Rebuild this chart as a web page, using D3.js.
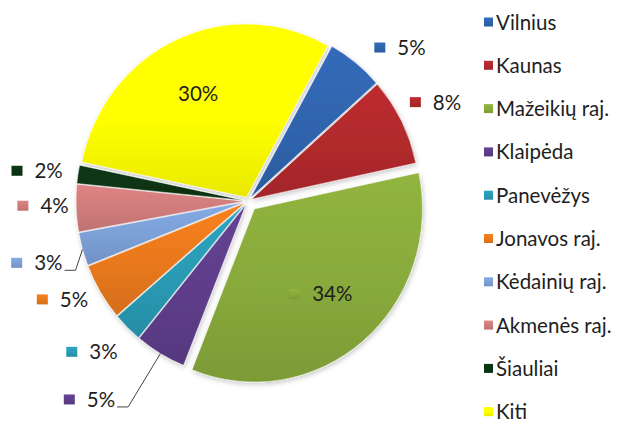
<!DOCTYPE html>
<html>
<head>
<meta charset="utf-8">
<script src="https://cdn.jsdelivr.net/npm/d3@7"></script>
<style>
  body { margin: 0; background: #fff; }
  text { font-family: Lato, "Liberation Sans", sans-serif; font-size: 20.5px; fill: #1e1e1e; }
</style>
</head>
<body>
<svg id="chart" width="622" height="425"></svg>
<script>
const cities = ["Vilnius", "Kaunas", "Mažeikių raj.", "Klaipėda", "Panevėžys",
                "Jonavos raj.", "Kėdainių raj.", "Akmenės raj.", "Šiauliai", "Kiti"];
const shares = [5.4, 8.2, 34.4, 4.9, 2.8, 5.3, 3.1, 4.4, 1.7, 29.8];
const colors = ["#2f64ad", "#b0292c", "#88a93b", "#5e3d8a", "#2a9ab3",
                "#e8781d", "#7b9fd6", "#cf7b7b", "#0a3412", "#ffff00"];

// label placement: [angle shift from slice middle (deg), distance from centre]
const labelPos = [[6, 216], [-1, 212], [2, 118], [8, 254], [1.5, 217],
                  [3, 210], [-0.5, 220], [1, 205], [-0.5, 213], [-5, 124]];
const leaderLines = [3, 6];

const cx = 248, cy = 201, r = 168, sy = 1.031;
const start = 29 * Math.PI / 180;

const svg = d3.select("#chart");
const defs = svg.append("defs");

const shadow = defs.append("filter").attr("id", "shadow")
    .attr("x", "-10%").attr("y", "-10%").attr("width", "120%").attr("height", "120%");
shadow.append("feDropShadow")
    .attr("dx", 1).attr("dy", 2).attr("stdDeviation", 2.5)
    .attr("flood-color", "#000").attr("flood-opacity", 0.22);

colors.forEach((c, i) => {
    const grad = defs.append("linearGradient").attr("id", "grad" + i)
        .attr("x1", 0).attr("y1", 0).attr("x2", 0).attr("y2", 1);
    grad.append("stop").attr("offset", "0%").attr("stop-color", d3.color(c).brighter(0.2));
    grad.append("stop").attr("offset", "55%").attr("stop-color", c);
    grad.append("stop").attr("offset", "100%").attr("stop-color", d3.color(c).darker(0.25));
});

const pie = d3.pie().sort(null).value(d => d)
    .startAngle(start).endAngle(start + 2 * Math.PI);
const arcs = pie(shares);
const arc = d3.arc().innerRadius(0).outerRadius(r);
const explode = i => i === 2 ? 10 : 4;

const g = svg.append("g")
    .attr("transform", "translate(" + cx + "," + cy + ") scale(1," + sy + ")")
    .attr("filter", "url(#shadow)");

g.selectAll("path")
    .data(arcs)
    .enter().append("path")
    .attr("d", arc)
    .attr("transform", (d, i) => {
        const m = (d.startAngle + d.endAngle) / 2;
        return "translate(" + explode(i) * Math.sin(m) + "," + (-explode(i) * Math.cos(m)) + ")";
    })
    .attr("fill", (d, i) => "url(#grad" + i + ")")
    .attr("stroke", "rgba(255,255,255,0.6)")
    .attr("stroke-width", 0.8);

// data labels with colour keys
arcs.forEach((d, i) => {
    const m = (d.startAngle + d.endAngle) / 2;
    const a = m + labelPos[i][0] * Math.PI / 180;
    const R = labelPos[i][1];
    const x = cx + R * Math.sin(a), y = cy - R * Math.cos(a);
    const lg = svg.append("g");
    const t = lg.append("text").text(Math.round(shares[i]) + "%");
    const w = t.node().getComputedTextLength();
    const total = 11 + 12 + w;
    const x0 = x - total / 2;
    lg.insert("rect", "text")
        .attr("x", x0).attr("y", y - 5).attr("width", 11).attr("height", 10)
        .attr("fill", i === 9 ? colors[i] : "url(#grad" + i + ")");
    t.attr("x", x0 + 23).attr("y", y + 7.5);
    if (leaderLines.includes(i)) {
        const e = r + explode(i);
        const px = cx + e * Math.sin(m), py = cy - e * Math.cos(m) * sy;
        const lx = x0 + total + 2, ly = y + 7.5;
        svg.append("path")
            .attr("d", d3.line()([[lx, ly], [lx + 11, ly], [px, py]]))
            .attr("fill", "none").attr("stroke", "#444").attr("stroke-width", 1);
    }
});

// legend
const legend = svg.append("g").selectAll("g")
    .data(cities)
    .enter().append("g")
    .attr("transform", (d, i) => "translate(484," + (22 + i * 43.3) + ")");
legend.append("rect")
    .attr("x", 0).attr("y", -4.5).attr("width", 9).attr("height", 9)
    .attr("fill", (d, i) => "url(#grad" + i + ")");
legend.append("text")
    .attr("x", 12).attr("y", 7.5)
    .text(d => d);
</script>
</body>
</html>
